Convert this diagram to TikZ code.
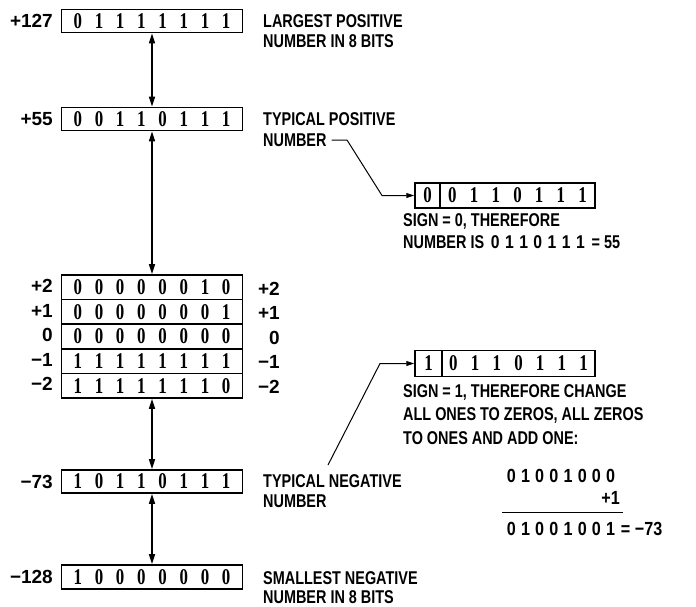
\documentclass[tikz,border=0pt]{standalone}
\usepackage{fontspec}
\setmainfont{Liberation Sans}[FakeStretch=0.78]
\newfontfamily\numfont{Liberation Sans}[FakeStretch=1.0]
\newfontfamily\calcfont{Liberation Sans}[FakeStretch=0.85]
\newfontfamily\digfont{Liberation Serif}[FakeStretch=0.75]
\usetikzlibrary{arrows.meta}
\newcommand\bbx[1]{\makebox[21.2pt]{#1}}
\newcommand\eightbits[8]{\bbx{#1}\bbx{#2}\bbx{#3}\bbx{#4}\bbx{#5}\bbx{#6}\bbx{#7}\bbx{#8}}
\newcommand\bby[1]{\makebox[21.7pt]{#1}}
\newcommand\sevenbits[7]{\bby{#1}\bby{#2}\bby{#3}\bby{#4}\bby{#5}\bby{#6}\bby{#7}}
\newcommand\bbz[1]{\makebox[14.2pt]{#1}}
\newcommand\calcbits[8]{\bbz{#1}\bbz{#2}\bbz{#3}\bbz{#4}\bbz{#5}\bbz{#6}\bbz{#7}\bbz{#8}}
\newcommand\bbw[1]{\makebox[14.2pt]{#1}}
\newcommand\isbits[7]{\bbw{#1}\bbw{#2}\bbw{#3}\bbw{#4}\bbw{#5}\bbw{#6}\bbw{#7}}
\begin{document}
\begin{tikzpicture}[x=1pt,y=-1pt,
  txt/.style={font=\bfseries\fontsize{18.5}{20}\selectfont, inner sep=0pt, text depth=0pt, align=left},
  num/.style={font=\numfont\bfseries\fontsize{19}{20}\selectfont, inner sep=0pt, text depth=0pt, anchor=east},
  bitbox/.style={draw, line width=1.6pt, minimum width=181pt, minimum height=23pt, inner sep=0pt, font=\digfont\bfseries\fontsize{22.5}{22}\selectfont},
  rowbox/.style={bitbox, minimum height=24.6pt},
  cellbox/.style={draw, line width=1.5pt, inner sep=0pt, font=\digfont\bfseries\fontsize{22.5}{22}\selectfont},
  dbl/.style={line width=1.5pt, {Triangle[length=10pt,width=6pt]}-{Triangle[length=10pt,width=6pt]}},
  lead/.style={line width=1pt, -{Triangle[length=8pt,width=5pt]}},
  calc/.style={font=\calcfont\bfseries\fontsize{19}{20}\selectfont, inner sep=0pt, text depth=0pt}
]
\useasboundingbox (0,0) rectangle (696,606);

% main boxes
\node[bitbox] (b127) at (152,21) {\eightbits01111111};
\node[bitbox] (b55) at (152,119) {\eightbits00110111};
\node[rowbox] (r1) at (152,287.3) {\eightbits00000010};
\node[rowbox] (r2) at (152,311.9) {\eightbits00000001};
\node[rowbox] (r3) at (152,336.5) {\eightbits00000000};
\node[rowbox] (r4) at (152,361.1) {\eightbits11111111};
\node[rowbox] (r5) at (152,385.7) {\eightbits11111110};
\node[bitbox] (b73) at (152,481.5) {\eightbits10110111};
\node[bitbox, minimum height=24pt] (b128) at (152,577) {\eightbits10000000};

% left labels
\node[num] (l127) at (53,21) {+127};
\node[num] (l55) at (53,119) {+55};
\node[num] (lr1) at (53,286) {+2};
\node[num] (lr2) at (53,310.5) {+1};
\node[num] (lr3) at (53,335) {0};
\node[num] (lr4) at (53,359.5) {−1};
\node[num] (lr5) at (53,384) {−2};
\node[num] (l73) at (53,481.5) {−73};
\node[num] (l128) at (53,577) {−128};

% right labels of stack
\node[num] (rr1) at (280,288.5) {+2};
\node[num] (rr2) at (280,313) {+1};
\node[num] (rr3) at (280,337.5) {0};
\node[num] (rr4) at (280,362) {−1};
\node[num] (rr5) at (280,386.5) {−2};

% arrows
\draw[dbl] (b127.south) -- (b55.north);
\draw[dbl] (b55.south) -- (r1.north);
\draw[dbl] (r5.south) -- (b73.north);
\draw[dbl] (b73.south) -- (b128.north);

% descriptive texts
\node[txt, anchor=west] (t127a) at (263,21) {LARGEST POSITIVE};
\node[txt, anchor=west] (t127b) at (263,41) {NUMBER IN 8 BITS};
\node[txt, anchor=west] (t55a) at (263,119) {TYPICAL POSITIVE};
\node[txt, anchor=west] (t55b) at (263,140) {NUMBER};
\node[txt, anchor=west] (t73a) at (263,481) {TYPICAL NEGATIVE};
\node[txt, anchor=west] (t73b) at (263,501) {NUMBER};
\node[txt, anchor=west] (t128a) at (263,578.5) {SMALLEST NEGATIVE};
\node[txt, anchor=west] (t128b) at (263,597) {NUMBER IN 8 BITS};

% positive example box
\node[cellbox, minimum width=25pt, minimum height=25pt] (ps) at (427.5,195.5) {0};
\node[cellbox, minimum width=155pt, minimum height=25pt] (pr) at (517.5,195.5) {\sevenbits0110111};
\node[txt, anchor=west] (pt1) at (403,220) {SIGN = 0, THEREFORE};
\node[txt, anchor=west] (pt2) at (403,242) {NUMBER IS {\calcfont\isbits0110111} = 55};

% negative example box
\node[cellbox, minimum width=27pt, minimum height=26pt] (ns) at (428.5,363.5) {1};
\node[cellbox, minimum width=153pt, minimum height=26pt] (nr) at (518.5,363.5) {\sevenbits0110111};
\node[txt, anchor=west] (nt1) at (403,391) {SIGN = 1, THEREFORE CHANGE};
\node[txt, anchor=west] (nt2) at (403,414.5) {ALL ONES TO ZEROS, ALL ZEROS};
\node[txt, anchor=west] (nt3) at (403,438) {TO ONES AND ADD ONE:};

% calculation
\node[calc, anchor=west] (c1) at (504,476) {\calcbits01001000};
\node[calc, anchor=east] (c2) at (620,498) {+1};
\coordinate (ra) at (502,512);
\coordinate (rb) at (623,512);
\draw[line width=1pt] (ra) -- (rb);
\node[calc, anchor=west] (c3) at (504,529) {\calcbits01001001\,= −73};

% leader lines
\coordinate (pa) at ([xshift=5pt]t55b.east);
\coordinate (pb) at (347,140);
\coordinate (pc) at (382,195.5);
\draw[lead] (pa) -- (pb) -- (pc) -- (ps.west);
\coordinate (na) at (328,465);
\coordinate (nb) at (380,363.5);
\draw[lead] (na) -- (nb) -- (ns.west);
\end{tikzpicture}
\end{document}
